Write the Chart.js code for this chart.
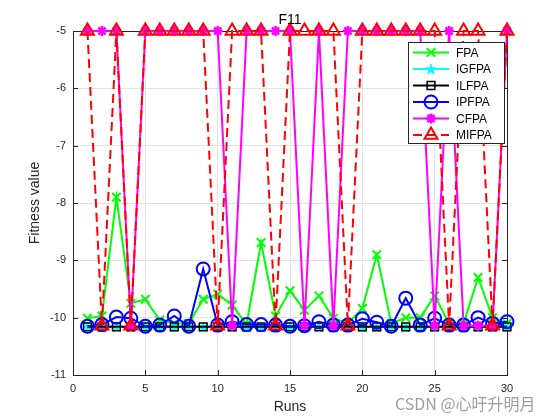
<!DOCTYPE html>
<html>
<head>
<meta charset="utf-8">
<title>F11</title>
<script src="https://cdn.jsdelivr.net/npm/chart.js@4.4.1/dist/chart.umd.min.js"></script>
<style>
  html, body { margin: 0; padding: 0; background: #fff; }
  #wrap { width: 560px; height: 420px; }
</style>
</head>
<body>
<div id="wrap"><canvas id="f11Chart" width="560" height="420"></canvas></div>
<script>
// 数据
const runs = [1, 2, 3, 4, 5, 6, 7, 8, 9, 10, 11, 12, 13, 14, 15, 16, 17, 18, 19, 20, 21, 22, 23, 24, 25, 26, 27, 28, 29, 30];
const fpa = [-10.01, -9.97, -7.90, -9.75, -9.68, -10.04, -10.10, -10.10, -9.68, -9.59, -9.78, -10.12, -8.69, -9.97, -9.53,
             -9.87, -9.62, -10.01, -10.10, -9.84, -8.90, -10.10, -10.00, -10.00, -9.62, -10.10, -10.10, -9.30, -10.00, -10.10];
const igfpa = [-10.16, -10.16, -10.16, -10.16, -10.16, -10.16, -10.16, -10.16, -10.16, -10.16, -10.16, -10.16, -10.16, -10.16, -10.16,
               -10.16, -10.16, -10.16, -10.16, -10.16, -10.16, -10.16, -10.16, -10.16, -10.16, -10.16, -10.16, -10.16, -10.16, -10.16];
const ilfpa = [-10.16, -10.16, -10.16, -10.16, -10.16, -10.16, -10.16, -10.16, -10.16, -10.16, -10.16, -10.16, -10.16, -10.16, -10.16,
               -10.16, -10.16, -10.16, -10.16, -10.16, -10.16, -10.16, -10.16, -10.16, -10.16, -10.16, -10.16, -10.16, -10.16, -10.16];
const ipfpa = [-10.15, -10.12, -9.99, -10.01, -10.15, -10.13, -9.97, -10.15, -9.15, -10.13, -10.07, -10.12, -10.12, -10.13, -10.15,
               -10.14, -10.07, -10.13, -10.13, -10.02, -10.08, -10.15, -9.66, -10.13, -10.01, -10.13, -10.13, -10.00, -10.10, -10.07];
const cfpa = [-5, -5, -5, -10.14, -5, -5, -5, -5, -5, -5, -10.14, -5, -5, -5, -5,
              -10.14, -5, -10.14, -5, -5, -5, -5, -5, -5, -10.14, -5, -10.14, -10.14, -10.14, -5];
const mifpa = [-5, -10.14, -5, -10.14, -5, -5, -5, -5, -5, -10.14, -5, -5, -5, -10.14, -5,
               -5, -5, -5, -10.14, -5, -5, -5, -5, -5, -5, -10.14, -5, -5, -10.14, -5];
const seriesNames = ['FPA', 'IGFPA', 'ILFPA', 'IPFPA', 'CFPA', 'MIFPA'];
const xTicks = [0, 5, 10, 15, 20, 25, 30];
const yTicks = [-11, -10, -9, -8, -7, -6, -5];

const axisColor = '#262626';
Chart.defaults.font.family = "'Liberation Sans', Arial, sans-serif";

// 五角星标记（MATLAB 'p'）
function makePentagram(size, color) {
    const c = document.createElement('canvas');
    c.width = size; c.height = size;
    const g = c.getContext('2d');
    const cx = size / 2, cy = size / 2 + 0.6, R = size / 2 - 0.5, r = R * 0.4;
    g.beginPath();
    for (let i = 0; i < 10; i++) {
        const a = -Math.PI / 2 + i * Math.PI / 5;
        const rad = i % 2 ? r : R;
        g.lineTo(cx + rad * Math.cos(a), cy + rad * Math.sin(a));
    }
    g.closePath();
    g.fillStyle = color; g.fill();
    g.strokeStyle = color; g.lineWidth = 1; g.stroke();
    return c;
}
const starImg = makePentagram(12, '#00ffff');

const toPoints = arr => arr.map((v, i) => ({ x: runs[i], y: v }));

function series(label, data, color, style, opts) {
    return Object.assign({
        label: label,
        data: toPoints(data),
        borderColor: color,
        backgroundColor: 'rgba(0,0,0,0)',
        borderWidth: 2,
        pointStyle: style,
        pointBorderColor: color,
        pointBackgroundColor: 'rgba(0,0,0,0)',
        pointBorderWidth: 2,
        pointRadius: 6,
        pointHoverRadius: 6,
        tension: 0,
        clip: false
    }, opts || {});
}

const datasets = [
    series(seriesNames[0], fpa, '#00ff00', 'crossRot', { order: 5, pointRadius: 6 }),
    series(seriesNames[1], igfpa, '#00ffff', starImg, { order: 4 }),
    series(seriesNames[2], ilfpa, '#000000', 'rect', { order: 3, pointRadius: 5.5, pointBorderWidth: 1.5 }),
    series(seriesNames[3], ipfpa, '#0000ff', 'circle', { order: 2, pointRadius: 6.5 }),
    series(seriesNames[4], cfpa, '#ff00ff', 'star', { order: 1, pointRadius: 5, pointBorderWidth: 2.5 }),
    series(seriesNames[5], mifpa, '#ff0000', 'triangle', { order: 0, pointRadius: 7.5, borderDash: [9, 5] })
];

// 坐标框、内向刻度
const framePlugin = {
    id: 'frame',
    beforeDatasetsDraw(chart) {
        const { ctx, chartArea: a, scales } = chart;
        ctx.save();
        ctx.strokeStyle = axisColor;
        ctx.lineWidth = 1;
        ctx.beginPath();
        xTicks.forEach(t => {
            const px = Math.round(scales.x.getPixelForValue(t)) + 0.5;
            ctx.moveTo(px, a.bottom); ctx.lineTo(px, a.bottom - 5);
            ctx.moveTo(px, a.top); ctx.lineTo(px, a.top + 5);
        });
        yTicks.forEach(t => {
            const py = Math.round(scales.y.getPixelForValue(t)) + 0.5;
            ctx.moveTo(a.left, py); ctx.lineTo(a.left + 5, py);
            ctx.moveTo(a.right, py); ctx.lineTo(a.right - 5, py);
        });
        ctx.stroke();
        ctx.strokeRect(Math.round(a.left) + 0.5, Math.round(a.top) + 0.5,
            Math.round(a.right - a.left), Math.round(a.bottom - a.top));
        ctx.restore();
    },
    afterDraw(chart) {
        const { ctx, chartArea: a } = chart;
        ctx.save();
        // 标题
        ctx.fillStyle = '#000';
        ctx.font = "14px 'Liberation Sans', Arial, sans-serif";
        ctx.textAlign = 'center';
        ctx.textBaseline = 'alphabetic';
        ctx.fillText('F11', (a.left + a.right) / 2, 24);

        // 图例
        const box = { x: 408.5, y: 42.5, w: 96, h: 101 };
        ctx.fillStyle = '#fff';
        ctx.fillRect(box.x, box.y, box.w, box.h);
        ctx.strokeStyle = axisColor;
        ctx.lineWidth = 1;
        ctx.strokeRect(box.x, box.y, box.w, box.h);
        ctx.font = "12px 'Liberation Sans', Arial, sans-serif";
        ctx.textAlign = 'left';
        ctx.textBaseline = 'middle';
        chart.data.datasets.forEach((ds, i) => {
            const y = 52.5 + i * 16.5;
            ctx.save();
            ctx.strokeStyle = ds.borderColor;
            ctx.lineWidth = ds.borderWidth;
            ctx.setLineDash(ds.borderDash || []);
            ctx.beginPath();
            ctx.moveTo(413, y); ctx.lineTo(449, y);
            ctx.stroke();
            ctx.setLineDash([]);
            ctx.fillStyle = ds.pointBackgroundColor;
            ctx.lineWidth = ds.pointBorderWidth;
            Chart.helpers.drawPoint(ctx, {
                pointStyle: ds.pointStyle,
                radius: ds.pointRadius,
                rotation: 0,
                borderWidth: ds.pointBorderWidth
            }, 431, y);
            ctx.restore();
            ctx.fillStyle = '#000';
            ctx.fillText(ds.label, 456, y + 1);
        });

        // 水印
        ctx.font = "16px 'Noto Sans CJK SC', sans-serif";
        ctx.fillStyle = 'rgba(140,140,140,0.85)';
        ctx.textAlign = 'left';
        ctx.textBaseline = 'alphabetic';
        ctx.fillText('CSDN @心吁升明月', 395, 410);
        ctx.restore();
    }
};

new Chart(document.getElementById('f11Chart'), {
    type: 'line',
    data: { datasets: datasets },
    options: {
        responsive: false,
        animation: false,
        events: [],
        layout: { padding: { left: 23, right: 53, top: 31, bottom: 4 } },
        plugins: { legend: { display: false }, title: { display: false }, tooltip: { enabled: false } },
        scales: {
            x: {
                type: 'linear', min: 0, max: 30,
                afterBuildTicks: s => { s.ticks = xTicks.map(v => ({ value: v })); },
                afterFit: s => { s.height = 41; },
                ticks: { padding: 7, color: axisColor, font: { size: 11 }, maxRotation: 0 },
                grid: { color: '#e2e2e2', drawTicks: false },
                border: { display: false },
                title: { display: true, text: 'Runs', color: axisColor, font: { size: 14 }, padding: { top: 0, bottom: 0 } }
            },
            y: {
                type: 'linear', min: -11, max: -5,
                afterBuildTicks: s => { s.ticks = yTicks.map(v => ({ value: v })); },
                afterFit: s => { s.width = 50; },
                ticks: { padding: 7, color: axisColor, font: { size: 11 } },
                grid: { color: '#e2e2e2', drawTicks: false },
                border: { display: false },
                title: { display: true, text: 'Fitness value', color: axisColor, font: { size: 14 }, padding: { top: 4, bottom: 0 } }
            }
        }
    },
    plugins: [framePlugin]
});
</script>
</body>
</html>
